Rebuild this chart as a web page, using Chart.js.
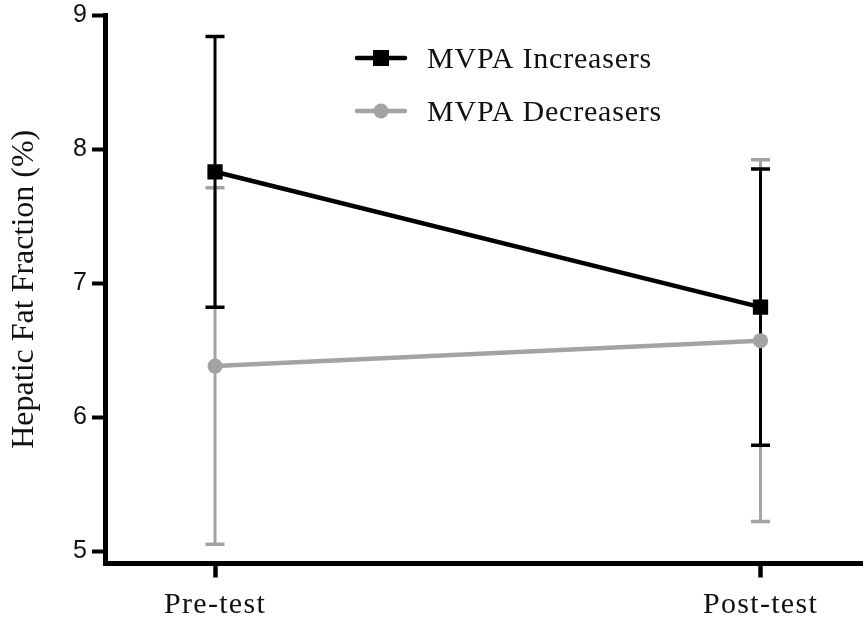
<!DOCTYPE html>
<html>
<head>
<meta charset="utf-8">
<script src="https://cdn.jsdelivr.net/npm/chart.js@4.4.1/dist/chart.umd.min.js"></script>
<style>
  html, body { margin: 0; padding: 0; background: #ffffff; }
  #wrap { width: 863px; height: 624px; }
  canvas { display: block; }
</style>
</head>
<body>
<div id="wrap"><canvas id="chart" width="863" height="624"></canvas></div>
<script>
// Hepatic fat fraction before and after, by MVPA change group (mean ± error)
const categories = ['Pre-test', 'Post-test'];
const yTicks = [5, 6, 7, 8, 9];
const seriesNames = ['MVPA Increasers', 'MVPA Decreasers'];
const increasersMean = [7.83, 6.82];
const increasersErr = [1.01, 1.03];
const decreasersMean = [6.38, 6.57];
const decreasersErr = [1.33, 1.35];

const BLACK = '#000000';
const GREY = '#a3a3a3';
const SERIF = "'Liberation Serif', 'Times New Roman', serif";
const SANS = "'Liberation Sans', Arial, sans-serif";

const toPoints = means => means.map((v, i) => ({ x: i, y: v }));

// Error bars sit under the lines and markers; grey group first so black stays on top
const errorBars = {
  id: 'errorBars',
  beforeDatasetsDraw(chart) {
    const { ctx, scales: { x, y } } = chart;
    const groups = [
      [decreasersMean, decreasersErr, GREY],
      [increasersMean, increasersErr, BLACK]
    ];
    ctx.save();
    groups.forEach(([means, errs, colour]) => {
      ctx.strokeStyle = colour;
      means.forEach((m, i) => {
        const px = x.getPixelForValue(i);
        const top = y.getPixelForValue(m + errs[i]);
        const bot = y.getPixelForValue(m - errs[i]);
        ctx.lineWidth = 3;
        ctx.beginPath();
        ctx.moveTo(px, top);
        ctx.lineTo(px, bot);
        ctx.stroke();
        ctx.lineWidth = 3.5;
        ctx.beginPath();
        ctx.moveTo(px - 9.5, top); ctx.lineTo(px + 9.5, top);
        ctx.moveTo(px - 9.5, bot); ctx.lineTo(px + 9.5, bot);
        ctx.stroke();
      });
    });
    ctx.restore();
  },
  afterDatasetsDraw(chart) {
    // category labels (ticks z:1) are painted after this hook, slightly tracked out
    chart.ctx.letterSpacing = '1.3px';
  },
  afterDraw(chart) {
    const ctx = chart.ctx;
    ctx.save();
    ctx.letterSpacing = '0.8px';
    const rows = [
      { name: seriesNames[0], colour: BLACK, y: 58, style: 'rect' },
      { name: seriesNames[1], colour: GREY, y: 111, style: 'circle' }
    ];
    rows.forEach(r => {
      ctx.strokeStyle = r.colour;
      ctx.fillStyle = r.colour;
      ctx.lineWidth = 4.5;
      ctx.lineCap = 'round';
      ctx.beginPath();
      ctx.moveTo(357, r.y);
      ctx.lineTo(405, r.y);
      ctx.stroke();
      if (r.style === 'rect') {
        ctx.fillRect(373, r.y - 8, 16, 16);
      } else {
        ctx.beginPath();
        ctx.arc(381, r.y, 7.5, 0, Math.PI * 2);
        ctx.fill();
      }
      ctx.fillStyle = '#111111';
      ctx.font = '30px ' + SERIF;
      ctx.textAlign = 'left';
      ctx.textBaseline = 'alphabetic';
      ctx.fillText(r.name, 427, r.y + 10);
    });
    ctx.restore();
    ctx.letterSpacing = '0px';
  }
};

new Chart(document.getElementById('chart'), {
  type: 'line',
  data: {
    datasets: [
      {
        label: seriesNames[0],
        data: toPoints(increasersMean),
        borderColor: BLACK,
        backgroundColor: BLACK,
        borderWidth: 4.5,
        pointStyle: 'rect',
        pointRadius: 10.8,
        pointBorderWidth: 0,
        pointBackgroundColor: BLACK,
        tension: 0
      },
      {
        label: seriesNames[1],
        data: toPoints(decreasersMean),
        borderColor: GREY,
        backgroundColor: GREY,
        borderWidth: 4.5,
        pointStyle: 'circle',
        pointRadius: 7.5,
        pointBorderWidth: 0,
        pointBackgroundColor: GREY,
        tension: 0
      }
    ]
  },
  options: {
    responsive: false,
    animation: false,
    devicePixelRatio: 1,
    layout: { autoPadding: false, padding: { top: 15, right: 0, bottom: 0, left: 0 } },
    plugins: { legend: { display: false }, tooltip: { enabled: false } },
    scales: {
      x: {
        type: 'linear',
        min: -0.2017,
        max: 1.1879,
        afterBuildTicks: s => { s.ticks = categories.map((_, i) => ({ value: i })); },
        afterFit: s => { s.height = 60.5; s.paddingLeft = 0; s.paddingRight = 0; },
        grid: { display: true, drawOnChartArea: false, drawTicks: true, tickLength: 14, tickWidth: 4.5, tickColor: BLACK, color: BLACK },
        border: { display: true, color: BLACK, width: 5 },
        ticks: {
          z: 1,
          padding: 9.5,
          color: '#111111',
          autoSkip: false,
          maxRotation: 0,
          font: { family: SERIF, size: 30 },
          callback: v => categories[v] ?? ''
        }
      },
      y: {
        min: 4.907,
        max: 9,
        afterBuildTicks: s => { s.ticks = yTicks.map(v => ({ value: v })); },
        afterFit: s => { s.width = 105; s.paddingTop = 0; s.paddingBottom = 0; },
        grid: { display: true, drawOnChartArea: false, drawTicks: true, tickLength: 13, tickWidth: 4, tickColor: BLACK, color: BLACK },
        border: { display: true, color: BLACK, width: 5 },
        ticks: {
          padding: 5,
          color: '#111111',
          font: { family: SANS, size: 25 },
          callback: v => String(v)
        },
        title: {
          display: true,
          text: 'Hepatic Fat Fraction (%)',
          color: '#111111',
          font: { family: SERIF, size: 32 },
          padding: { top: 5, bottom: 0 }
        }
      }
    }
  },
  plugins: [errorBars]
});
</script>
</body>
</html>
